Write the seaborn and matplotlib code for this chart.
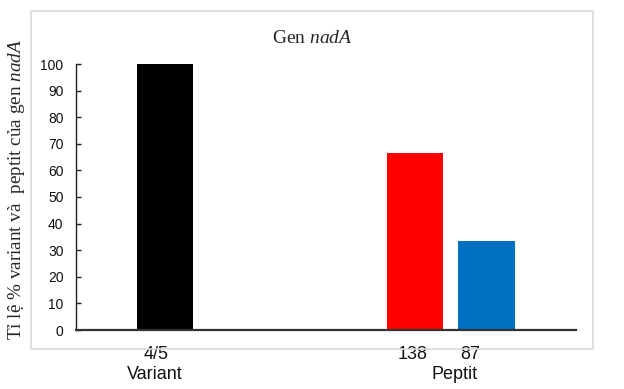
import matplotlib
matplotlib.use("Agg")
import matplotlib.pyplot as plt
import seaborn as sns
import pandas as pd
from matplotlib.patches import Rectangle

# ---- data ----
groups = ["Variant", "Peptit"]
bar_labels = ["4/5", "138", "87"]
bar_groups = ["Variant", "Peptit", "Peptit"]
values = [100, 66.7, 33.3]
colors = ["#000000", "#FF0000", "#0070C0"]
yticks = [0, 10, 20, 30, 40, 50, 60, 70, 80, 90, 100]
title_plain = "Gen "
title_italic = "nadA"
ylabel_plain = "Tỉ lệ % variant và  peptit của gen "

# ---- layout (positions computed from group structure) ----
group_start = {"Variant": 0.0, "Peptit": 3.5}
xpos = []
count = {}
for g in bar_groups:
    k = count.get(g, 0)
    xpos.append(group_start[g] + k)
    count[g] = k + 1

df = pd.DataFrame({"x": xpos, "value": values, "label": bar_labels})

sns.set_theme(style="white")
plt.rcParams["font.family"] = ["Liberation Sans", "DejaVu Sans"]
plt.rcParams["mathtext.fontset"] = "custom"
plt.rcParams["mathtext.rm"] = "Liberation Serif"
plt.rcParams["mathtext.it"] = "Liberation Serif:italic"

fig = plt.figure(figsize=(6.24, 3.89), dpi=100)
fig.patch.set_facecolor("white")
ax = fig.add_axes([76 / 624, 1 - 330 / 389, 500 / 624, 266 / 389])

sns.barplot(data=df, x="x", y="value", hue="label", hue_order=bar_labels,
            palette=dict(zip(bar_labels, colors)), native_scale=True,
            dodge=False, width=0.79, legend=False, ax=ax, saturation=1,
            linewidth=0)

ax.set_xlim(-1.246, 5.756)
ax.set_ylim(0, 100)
ax.set_yticks(yticks)
ax.set_yticklabels([str(t) for t in yticks], fontsize=10, color="#111111")
ax.tick_params(axis="y", left=True, direction="in", length=3.5, width=1,
               color="#222222", pad=9)
ax.tick_params(axis="x", length=0, labelbottom=False)
ax.set_xlabel("")
ax.set_ylabel("")
for s in ["top", "right"]:
    ax.spines[s].set_visible(False)
ax.spines["left"].set_color("#222222")
ax.spines["left"].set_linewidth(1.0)
ax.spines["bottom"].set_color("#333333")
ax.spines["bottom"].set_linewidth(1.6)

# category labels (Excel-like offsets)
label_off = [-0.13, -0.03, -0.23]
trans = ax.get_xaxis_transform()
for xp, lab, off in zip(xpos, bar_labels, label_off):
    ax.text(xp + off, -0.109, lab, transform=trans, ha="center", va="baseline",
            fontsize=13, color="#111111", clip_on=False)
group_off = {"Variant": -0.14, "Peptit": 0.55}
for g in groups:
    ax.text(group_start[g] + group_off[g], -0.184, g, transform=trans, ha="center",
            va="baseline", fontsize=13, color="#111111", clip_on=False)

# chart area border
fig.patches.append(Rectangle((31 / 624, 1 - 349 / 389), 562 / 624, 338 / 389,
                             transform=fig.transFigure, fill=False,
                             edgecolor="#d9d9d9", linewidth=1.2, zorder=0))

fig.text(312 / 624, 1 - 43 / 389, title_plain + r"$\mathit{" + title_italic + "}$",
         ha="center", va="baseline", fontsize=14, family="Liberation Serif")
fig.text(17 / 624, 1 - 189 / 389, ylabel_plain + r"$\mathit{" + title_italic + "}$",
         ha="center", va="center", rotation=90, fontsize=13.8, family="Liberation Serif")

fig.savefig("out.png", dpi=100)
